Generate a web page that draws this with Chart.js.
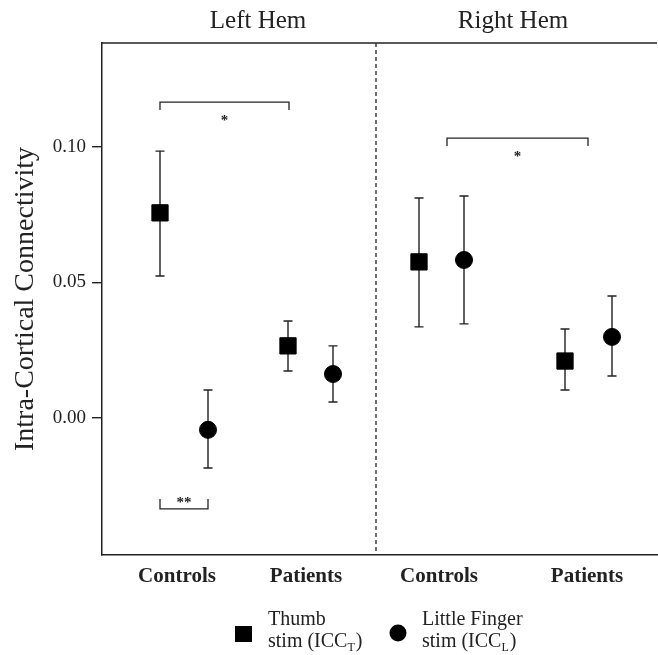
<!DOCTYPE html>
<html>
<head>
<meta charset="utf-8">
<script src="https://cdn.jsdelivr.net/npm/chart.js@4.4.1/dist/chart.umd.min.js"></script>
<style>
  body { margin: 0; background: #fff; }
  #wrap { width: 658px; height: 655px; }
</style>
</head>
<body>
<div id="wrap"><canvas id="myChart" width="658" height="655"></canvas></div>
<script>
// group labels along the bottom, and where they sit on the x scale
const groupLabels = ["Controls", "Patients", "Controls", "Patients"];
const groupPos = [1.5, 4.08, 6.74, 9.7];
const panelTitles = ["Left Hem", "Right Hem"];
const panelTitlePos = [3.12, 8.22];
const dividerX = 5.48;

// thumb stimulation (ICC_T): mean and error bar ends
const thumbX = [1.16, 3.72, 6.34, 9.26];
const thumbMean = [0.0757, 0.0266, 0.0576, 0.021];
const thumbLow = [0.0524, 0.0173, 0.0336, 0.0103];
const thumbHigh = [0.0985, 0.0358, 0.0812, 0.0328];

// little finger stimulation (ICC_L)
const littleX = [2.12, 4.62, 7.24, 10.2];
const littleMean = [-0.0044, 0.0162, 0.0583, 0.0299];
const littleLow = [-0.0185, 0.0059, 0.0347, 0.0155];
const littleHigh = [0.0103, 0.0266, 0.0819, 0.045];

const yTicks = [0, 0.05, 0.1];

// significance brackets: [x1, x2, yLine, yTickEnd, label, labelY]
const brackets = [
  [1.16, 3.74, 0.1166, 0.1137, "*", 0.1105],
  [1.16, 2.12, -0.0336, -0.0299, "**", -0.0303],
  [6.9, 9.72, 0.1033, 0.1004, "*", 0.0972]
];

const serif = "'Liberation Serif', 'Times New Roman', serif";
const ink = "#222";

const errorBars = {
  id: "errorBars",
  beforeDatasetsDraw(chart) {
    const ctx = chart.ctx;
    const x = chart.scales.x, y = chart.scales.y;
    const sets = [[thumbX, thumbLow, thumbHigh], [littleX, littleLow, littleHigh]];
    ctx.save();
    ctx.strokeStyle = ink;
    ctx.lineWidth = 1.4;
    sets.forEach(function (s) {
      for (let i = 0; i < s[0].length; i++) {
        const px = x.getPixelForValue(s[0][i]);
        const lo = y.getPixelForValue(s[1][i]);
        const hi = y.getPixelForValue(s[2][i]);
        ctx.beginPath();
        ctx.moveTo(px, lo); ctx.lineTo(px, hi);
        ctx.moveTo(px - 4.5, lo); ctx.lineTo(px + 4.5, lo);
        ctx.moveTo(px - 4.5, hi); ctx.lineTo(px + 4.5, hi);
        ctx.stroke();
      }
    });
    ctx.restore();
  }
};

const decorations = {
  id: "decorations",
  afterDraw(chart) {
    const ctx = chart.ctx;
    const x = chart.scales.x, y = chart.scales.y;
    const area = chart.chartArea;
    ctx.save();
    ctx.strokeStyle = ink;
    ctx.fillStyle = ink;

    // top frame line
    ctx.lineWidth = 1.5;
    ctx.beginPath();
    ctx.moveTo(area.left, area.top); ctx.lineTo(area.right, area.top);
    ctx.stroke();

    // dashed divider between hemispheres
    ctx.lineWidth = 1.3;
    ctx.setLineDash([4, 3]);
    const dx = x.getPixelForValue(dividerX);
    ctx.beginPath();
    ctx.moveTo(dx, area.top); ctx.lineTo(dx, area.bottom);
    ctx.stroke();
    ctx.setLineDash([]);

    // panel titles
    ctx.font = "25px " + serif;
    ctx.textAlign = "center";
    ctx.textBaseline = "middle";
    panelTitles.forEach(function (t, i) {
      ctx.fillText(t, x.getPixelForValue(panelTitlePos[i]), 21);
    });

    // brackets and stars
    ctx.lineWidth = 1.3;
    brackets.forEach(function (b) {
      const x1 = x.getPixelForValue(b[0]), x2 = x.getPixelForValue(b[1]);
      const yl = y.getPixelForValue(b[2]), yt = y.getPixelForValue(b[3]);
      ctx.beginPath();
      ctx.moveTo(x1, yt); ctx.lineTo(x1, yl); ctx.lineTo(x2, yl); ctx.lineTo(x2, yt);
      ctx.stroke();
      ctx.font = "bold 15px " + serif;
      ctx.fillText(b[4], (x1 + x2) / 2, y.getPixelForValue(b[5]) + 3);
    });

    // legend
    ctx.fillStyle = "#000";
    ctx.fillRect(235, 626, 17, 16);
    ctx.beginPath();
    ctx.arc(398, 633, 8.5, 0, Math.PI * 2);
    ctx.fill();
    ctx.fillStyle = ink;
    ctx.textAlign = "left";
    ctx.textBaseline = "alphabetic";
    function stimLine(lx, by, sub) {
      ctx.font = "20px " + serif;
      ctx.fillText("stim (ICC", lx, by);
      let w = ctx.measureText("stim (ICC").width;
      ctx.font = "12px " + serif;
      ctx.fillText(sub, lx + w, by + 4);
      w += ctx.measureText(sub).width + 1;
      ctx.font = "20px " + serif;
      ctx.fillText(")", lx + w, by);
    }
    ctx.font = "20px " + serif;
    ctx.fillText("Thumb", 268, 625);
    stimLine(268, 647, "T");
    ctx.fillText("Little Finger", 422, 625);
    stimLine(422, 647, "L");
    ctx.restore();
  }
};

const ctx = document.getElementById("myChart");
new Chart(ctx, {
  type: "scatter",
  data: {
    datasets: [
      {
        label: "Thumb stim (ICC_T)",
        data: thumbX.map(function (v, i) { return { x: v, y: thumbMean[i] }; }),
        pointStyle: "rect",
        pointRadius: 11.5,
        backgroundColor: "#000",
        borderColor: "#000",
        borderWidth: 1
      },
      {
        label: "Little Finger stim (ICC_L)",
        data: littleX.map(function (v, i) { return { x: v, y: littleMean[i] }; }),
        pointStyle: "circle",
        pointRadius: 8.5,
        backgroundColor: "#000",
        borderColor: "#000",
        borderWidth: 1
      }
    ]
  },
  options: {
    responsive: false,
    animation: false,
    layout: { autoPadding: false, padding: { top: 43, right: 1, bottom: 0, left: 0 } },
    plugins: {
      legend: { display: false },
      tooltip: { enabled: false }
    },
    scales: {
      x: {
        type: "linear",
        min: 0,
        max: 11.1,
        afterFit: function (scale) { scale.height = 100; },
        afterBuildTicks: function (scale) {
          scale.ticks = groupPos.map(function (v) { return { value: v }; });
        },
        ticks: {
          autoSkip: false,
          maxRotation: 0,
          padding: 9,
          color: ink,
          font: { family: serif, size: 21, weight: "bold" },
          callback: function (value) {
            const i = groupPos.indexOf(value);
            return i >= 0 ? groupLabels[i] : "";
          }
        },
        grid: { display: true, drawOnChartArea: false, drawTicks: false },
        border: { display: true, color: ink, width: 1.5 }
      },
      y: {
        min: -0.0506,
        max: 0.1384,
        afterFit: function (scale) { scale.width = 102; },
        afterBuildTicks: function (scale) {
          scale.ticks = yTicks.map(function (v) { return { value: v }; });
        },
        ticks: {
          padding: 6,
          color: ink,
          font: { family: serif, size: 19 },
          callback: function (value) { return value.toFixed(2); }
        },
        grid: { drawOnChartArea: false, tickLength: 10, color: ink, lineWidth: 1.4 },
        border: { display: true, color: ink, width: 1.5 },
        title: {
          display: true,
          text: "Intra-Cortical Connectivity",
          color: ink,
          font: { family: serif, size: 28 },
          padding: { top: 9, bottom: 0 }
        }
      }
    }
  },
  plugins: [errorBars, decorations]
});
</script>
</body>
</html>
